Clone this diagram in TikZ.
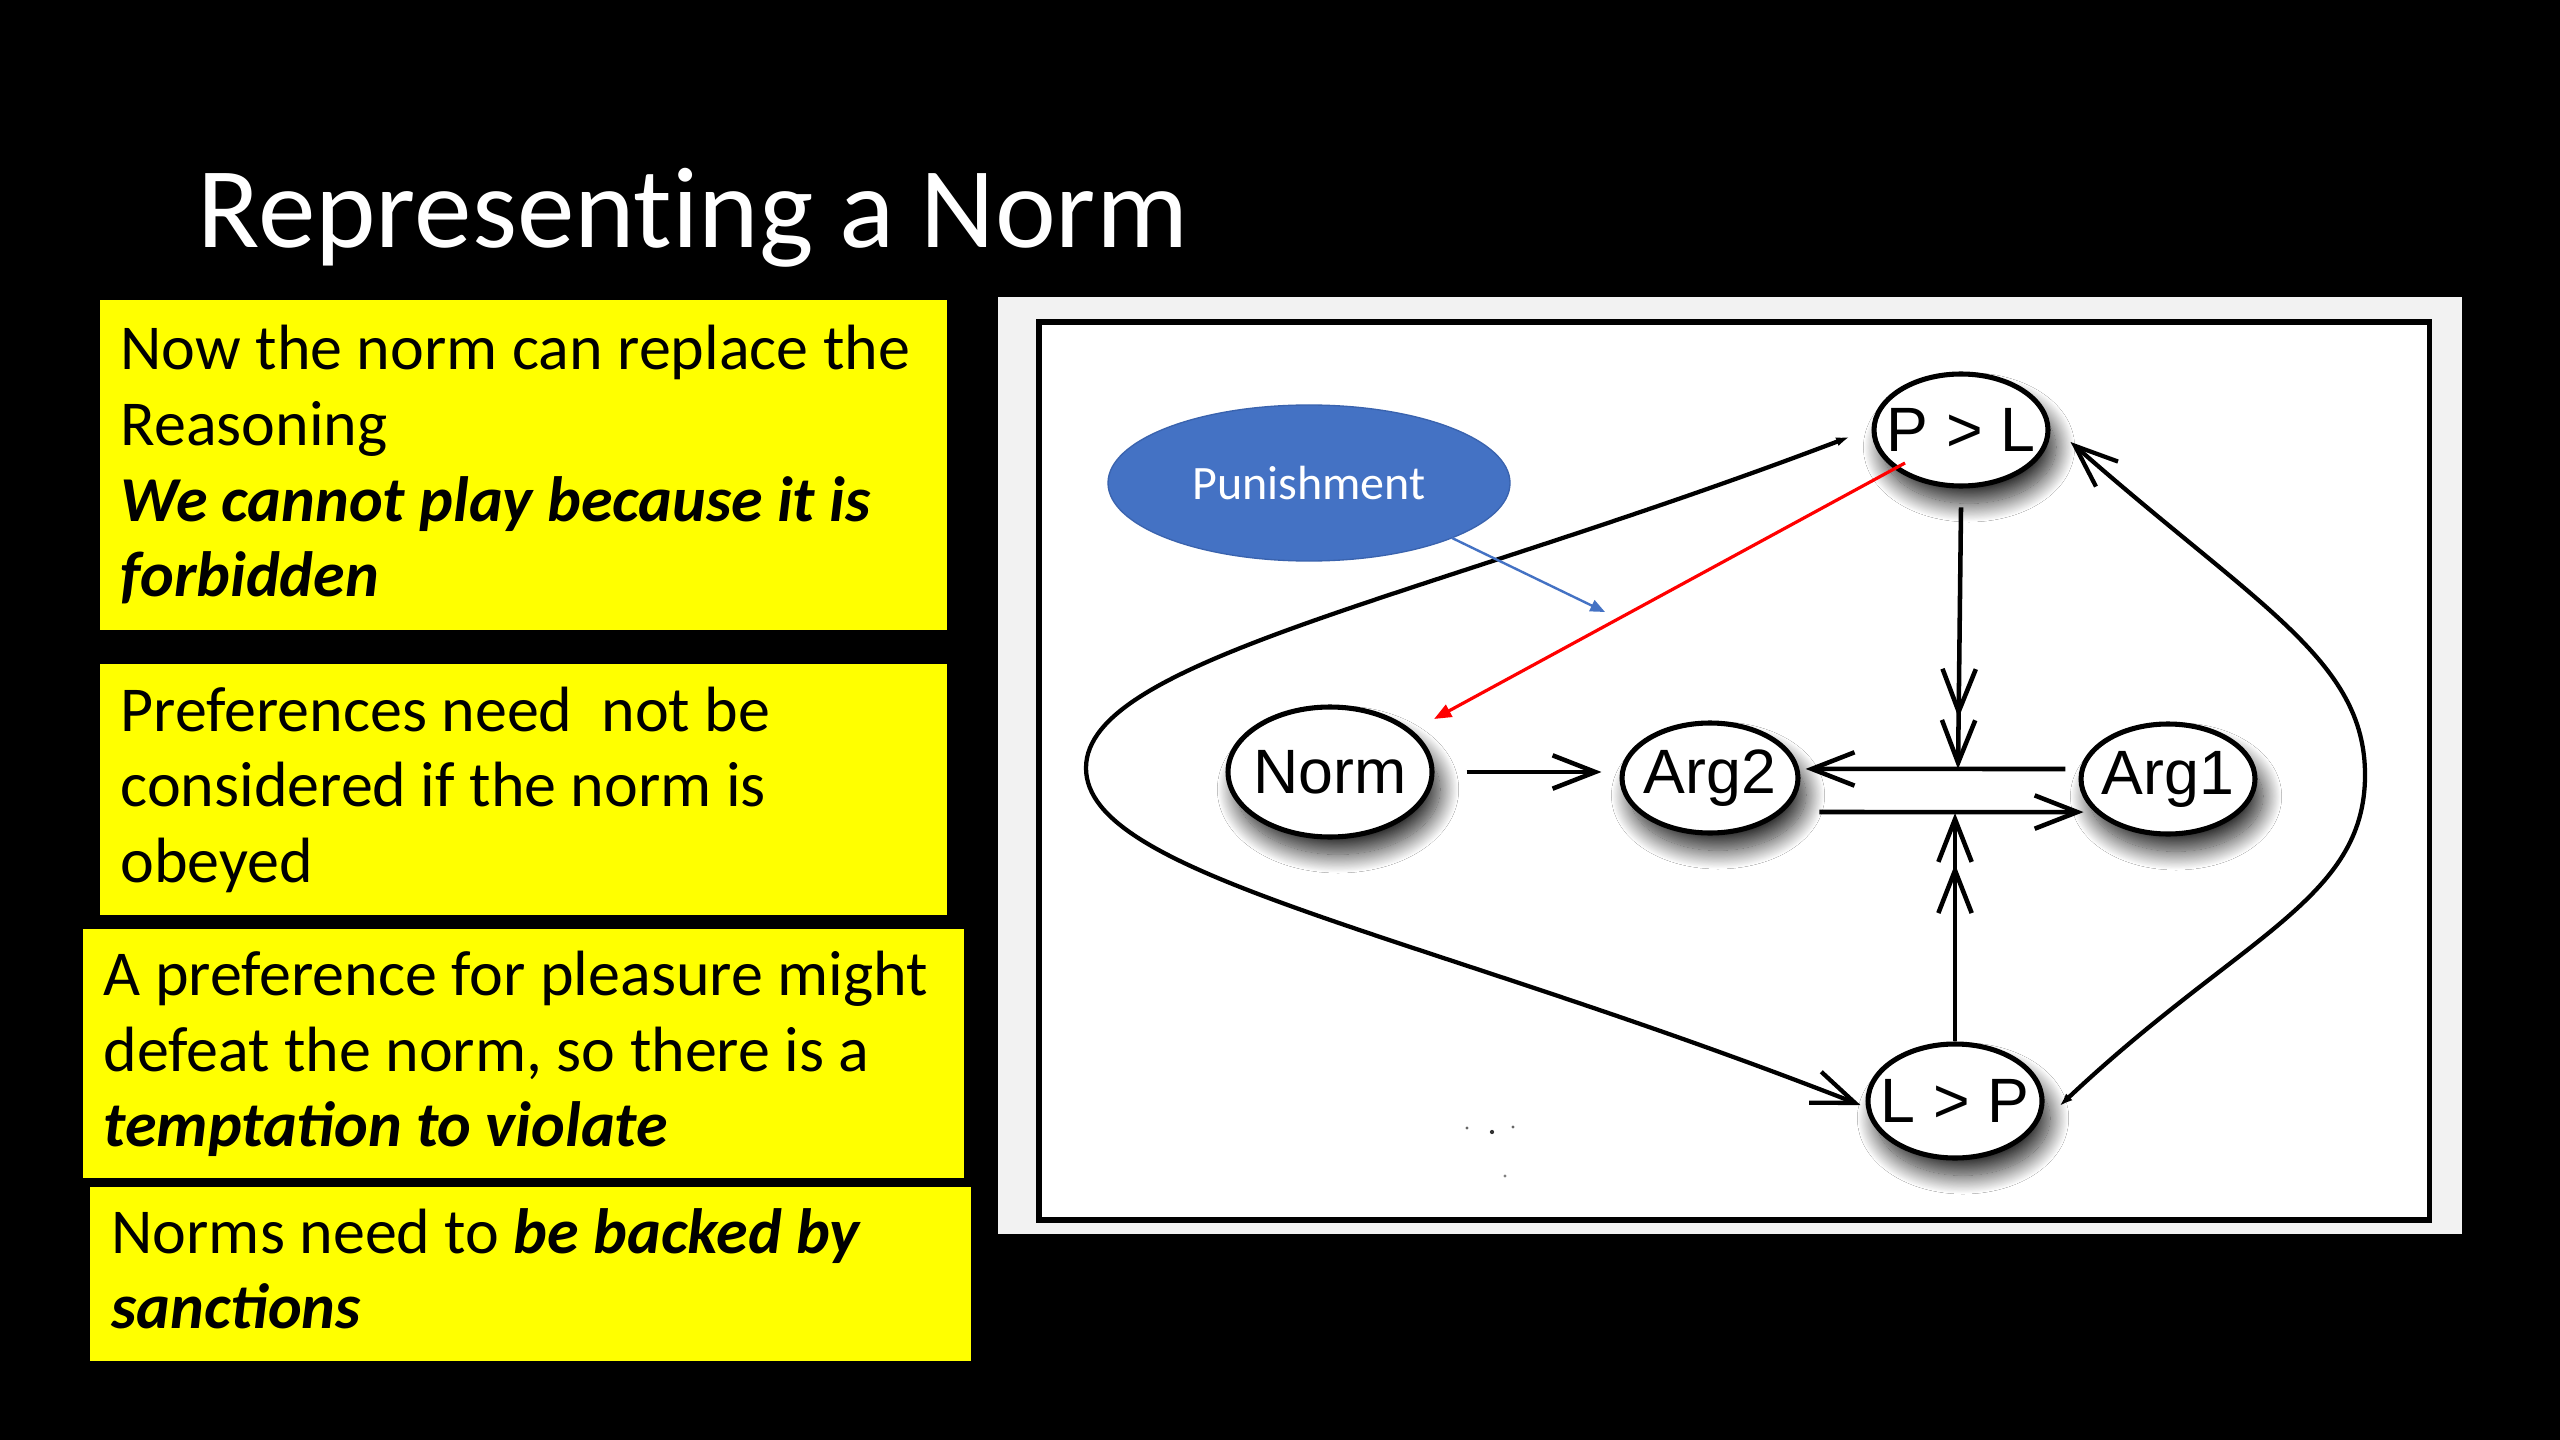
\documentclass[tikz,border=0pt]{standalone}
\usepackage{fontspec}
\setmainfont{Carlito}
\newfontfamily\titlefont{Carlito}[Ligatures=NoCommon]
\newfontfamily\arialfont{Liberation Sans}
\usetikzlibrary{arrows.meta,shapes.geometric,shadows.blur}
\definecolor{pblue}{HTML}{4472C4}
\definecolor{pbluedark}{HTML}{3A63AE}
\definecolor{yel}{HTML}{FFFF00}
\definecolor{panelgray}{HTML}{F2F2F2}
\definecolor{redline}{HTML}{FF0000}
\newcommand{\lbl}[1]{\makebox[0pt]{#1}}
\begin{document}
\begin{tikzpicture}[x=0.375pt,y=-0.375pt,
  state/.style={ellipse, draw=black, line width=1.9pt, fill=white, inner sep=0pt,
    font=\arialfont\fontsize{23.5}{23.5}\selectfont,
    blur shadow={shadow xshift=3pt, shadow yshift=-6.5pt, shadow blur radius=7pt, shadow opacity=85, shadow blur steps=24}},
  barb/.style={line width=1.7pt, -{Straight Barb[length=16pt,width=12.5pt]}},
  dbarb/.style={line width=1.7pt, -{Straight Barb[length=16pt,width=12.5pt]Straight Barb[length=16pt,width=12.5pt]}},
  loop/.style={line width=1.6pt, {Latex[length=5pt,width=3.5pt]}-{Straight Barb[length=16pt,width=12.5pt]}},
  ybox/.style={rectangle, fill=yel, draw=none, inner sep=0pt},
  ln/.style={anchor=base west, inner sep=0pt, font=\fontsize{24}{28}\selectfont, text=black},
  bi/.style={font=\fontsize{24}{28}\selectfont\bfseries\itshape}
]
% background and bounding box
\fill[black] (0,0) rectangle (2560,1440);
\useasboundingbox (0,0) rectangle (2560,1440);

% title
\node[anchor=base west, inner sep=0pt, text=white, font=\titlefont\fontsize{43.2}{43.2}\selectfont] (title) at (197,248) {Representing a Norm};

% yellow boxes
\node[ybox, minimum width=317.6pt, minimum height=123.75pt] (box1) at (523.5,465) {};
\node[ybox, minimum width=317.6pt, minimum height=94.1pt] (box2) at (523.5,789.5) {};
\node[ybox, minimum width=330.4pt, minimum height=93.4pt] (box3) at (523.5,1053.5) {};
\node[ybox, minimum width=330.4pt, minimum height=65.25pt] (box4) at (530.5,1274) {};

\node[ln] (t11) at (120,370) {Now the norm can replace the};
\node[ln] (t12) at (120,446) {Reasoning};
\node[ln, bi] (t13) at (120,521) {We cannot play because it is};
\node[ln, bi] (t14) at (120,596) {forbidden};

\node[ln] (t21) at (120,731) {Preferences need~~not be};
\node[ln] (t22) at (120,806) {considered if the norm is};
\node[ln] (t23) at (120,882) {obeyed};

\node[ln] (t31) at (103,995) {A preference for pleasure might};
\node[ln] (t32) at (103,1071) {defeat the norm, so there is a};
\node[ln, bi] (t33) at (103,1146) {temptation to violate};

\node[ln] (t41) at (111,1253) {Norms need to {\bfseries\itshape be backed by}};
\node[ln, bi] (t42) at (111,1328) {sanctions};

% diagram panel
\fill[panelgray] (998,297) rectangle (2462,1234);
\draw[line width=1.9pt, fill=white] (1039,322) rectangle (2429,1220);

% tiny specks
\fill[black!60] (1467,1128) circle[radius=0.6pt];
\fill[black!80] (1492,1132) circle[radius=0.8pt];
\fill[black!60] (1513,1127) circle[radius=0.6pt];
\fill[black!50] (1505,1176) circle[radius=0.6pt];

% nodes
\node[ellipse, fill=pblue, draw=pbluedark, line width=0.5pt, minimum width=150.75pt, minimum height=58.5pt,
      inner sep=0pt, text=white, font=\fontsize{18}{18}\selectfont] (pun) at (1309,483) {Punishment};
\node[state, minimum width=76.5pt, minimum height=48.75pt] (norm) at (1330,772) {\lbl{Norm}};
\node[state, minimum width=66pt, minimum height=41.25pt] (arg2) at (1710,778) {\lbl{Arg2}};
\node[state, minimum width=65.25pt, minimum height=41.25pt] (arg1) at (2168,779) {\lbl{Arg1}};
\node[state, minimum width=65.25pt, minimum height=42pt] (pl) at (1961,430) {\lbl{P > L}};
\node[state, minimum width=65.25pt, minimum height=42.75pt] (lp) at (1955,1101) {\lbl{L > P}};

\coordinate (jtop) at (1958,769);
\coordinate (jbot) at (1955,813);
\coordinate (bluetip) at (1605,612);

% connectors
\draw[barb] ([xshift=12pt]norm.east) -- ([xshift=-6.75pt]norm.east -| arg2.west);
\draw[barb] ([xshift=-4.9pt,yshift=3.75pt]arg1.west) -- ([xshift=1.9pt,yshift=3.4pt]arg2.east);
\draw[barb] ([xshift=7.1pt,yshift=-12.75pt]arg2.east) -- ([xshift=1.9pt,yshift=-12.4pt]arg1.west);
\draw[dbarb] ([yshift=-7.1pt]pl.south) -- (jtop);
\draw[dbarb] (lp.north) -- (jbot);

\draw[loop] ([xshift=-8.25pt,yshift=-2.6pt]pl.west) .. controls (1420,600) and (1086,660) .. (1086,768)
   .. controls (1086,876) and (1413,930) .. ([xshift=-1.9pt,yshift=-1.5pt]lp.west);
\draw[loop] ([xshift=5.6pt,yshift=-1.9pt]lp.east) .. controls (2240,936) and (2365,900) .. (2365,775)
   .. controls (2365,660) and (2257,606) .. ([xshift=7.5pt,yshift=-4.5pt]pl.east);

\draw[redline, line width=1.2pt, -{Triangle[length=6.5pt,width=5pt]}] ([shift={(-56,33)}]pl.center) -- ([shift={(104,-53)}]norm.center);
\draw[pblue, line width=0.9pt, -{Triangle[length=5.5pt,width=4.5pt]}] ([shift={(143,55)}]pun.center) -- (bluetip);
\end{tikzpicture}
\end{document}
